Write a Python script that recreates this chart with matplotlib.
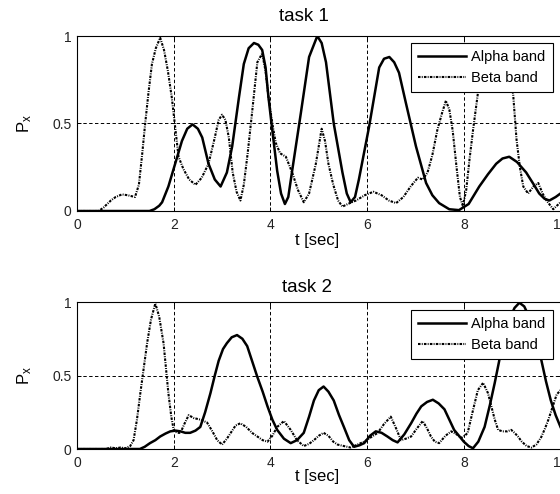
import matplotlib
matplotlib.use("Agg")
import matplotlib.pyplot as plt

plt.rcParams['font.family'] = ['Liberation Sans', 'DejaVu Sans']
plt.rcParams['mathtext.fontset'] = 'custom'
plt.rcParams['mathtext.rm'] = 'Liberation Sans'
plt.rcParams['mathtext.it'] = 'Liberation Sans'

# ---------------- data ----------------
titles = ["task 1", "task 2"]
series_names = ["Alpha band", "Beta band"]
xticks = [0, 2, 4, 6, 8, 10]
yticks = [0, 0.5, 1]
ytick_labels = ["0", "0.5", "1"]

t1_alpha = [0, 1.5, 1.6, 1.7, 1.76, 1.89, 2.03, 2.17, 2.28, 2.39, 2.5, 2.59, 2.72, 2.85, 2.97,
            3.1, 3.21, 3.35, 3.45, 3.55, 3.66, 3.75, 3.83, 3.9, 3.96, 4.04, 4.14, 4.22, 4.3,
            4.37, 4.45, 4.63, 4.8, 4.97, 5.06, 5.15, 5.31, 5.49, 5.58, 5.66, 5.75, 5.83, 6.04,
            6.25, 6.35, 6.46, 6.56, 6.66, 6.8, 7.01, 7.22, 7.35, 7.49, 7.7, 7.9, 8.1, 8.32,
            8.5, 8.67, 8.8, 8.94, 9.1, 9.29, 9.45, 9.56, 9.67, 9.77, 9.9, 10]
y1_alpha = [0, 0, 0.01, 0.03, 0.05, 0.14, 0.27, 0.40, 0.47, 0.495, 0.47, 0.42, 0.27, 0.18, 0.14,
            0.22, 0.37, 0.65, 0.84, 0.93, 0.96, 0.95, 0.92, 0.82, 0.65, 0.46, 0.23, 0.10, 0.04,
            0.08, 0.23, 0.56, 0.88, 1.0, 0.96, 0.85, 0.50, 0.22, 0.10, 0.05, 0.08, 0.18, 0.48,
            0.82, 0.87, 0.88, 0.85, 0.79, 0.62, 0.37, 0.16, 0.09, 0.045, 0.01, 0.005, 0.04, 0.14,
            0.21, 0.27, 0.30, 0.31, 0.28, 0.22, 0.15, 0.10, 0.07, 0.06, 0.08, 0.10]

t1_beta = [0, 0.45, 0.55, 0.7, 0.8, 0.93, 1.05, 1.2, 1.28, 1.35, 1.41, 1.48, 1.55, 1.63, 1.72,
           1.8, 1.88, 1.96, 2.03, 2.1, 2.2, 2.32, 2.45, 2.58, 2.72, 2.85, 2.93, 3.0, 3.07, 3.14,
           3.22, 3.3, 3.38, 3.45, 3.53, 3.62, 3.73, 3.83, 3.9, 3.96, 4.04, 4.11, 4.2, 4.32, 4.45,
           4.57, 4.69, 4.8, 4.94, 5.06, 5.13, 5.2, 5.3, 5.4, 5.49, 5.6, 5.77, 5.95, 6.13, 6.3,
           6.45, 6.6, 6.75, 6.9, 7.05, 7.15, 7.25, 7.35, 7.45, 7.55, 7.63, 7.7, 7.77, 7.85, 7.92,
           7.98, 8.05, 8.12, 8.19, 8.29, 8.4, 8.55, 8.7, 8.85, 9.02, 9.09, 9.16, 9.23, 9.33, 9.44,
           9.54, 9.63, 9.71, 9.85, 10]
y1_beta = [0, 0, 0.02, 0.06, 0.08, 0.095, 0.09, 0.08, 0.15, 0.33, 0.50, 0.68, 0.84, 0.93, 0.99,
           0.92, 0.80, 0.65, 0.48, 0.31, 0.24, 0.18, 0.15, 0.19, 0.27, 0.42, 0.52, 0.55, 0.52, 0.42,
           0.22, 0.11, 0.06, 0.15, 0.33, 0.56, 0.85, 0.90, 0.80, 0.65, 0.50, 0.39, 0.33, 0.31, 0.22,
           0.12, 0.05, 0.10, 0.27, 0.47, 0.40, 0.27, 0.15, 0.06, 0.025, 0.04, 0.06, 0.09, 0.11, 0.09,
           0.06, 0.045, 0.08, 0.14, 0.19, 0.18, 0.22, 0.32, 0.46, 0.56, 0.63, 0.58, 0.46, 0.25, 0.08,
           0.03, 0.12, 0.30, 0.46, 0.67, 0.82, 0.93, 0.95, 0.85, 0.67, 0.41, 0.25, 0.14, 0.10, 0.14,
           0.16, 0.10, 0.06, 0.01, 0.05]

t2_alpha = [0, 1.3, 1.4, 1.51, 1.62, 1.72, 1.83, 1.93, 2.04, 2.14, 2.24, 2.34, 2.45, 2.55, 2.65,
            2.76, 2.85, 2.93, 3.02, 3.1, 3.2, 3.31, 3.42, 3.52, 3.62, 3.73, 3.84, 3.94, 4.04, 4.14,
            4.28, 4.42, 4.55, 4.69, 4.8, 4.9, 5.0, 5.1, 5.2, 5.31, 5.42, 5.52, 5.63, 5.73, 5.84,
            5.94, 6.06, 6.18, 6.3, 6.42, 6.53, 6.63, 6.77, 6.91, 7.02, 7.12, 7.24, 7.36, 7.48, 7.6,
            7.7, 7.8, 7.9, 8.0, 8.1, 8.19, 8.3, 8.43, 8.54, 8.64, 8.72, 8.78, 8.85, 8.95, 9.05,
            9.15, 9.25, 9.35, 9.45, 9.53, 9.6, 9.7, 9.8, 9.9, 10]
y2_alpha = [0, 0, 0.015, 0.04, 0.06, 0.085, 0.105, 0.12, 0.125, 0.12, 0.11, 0.11, 0.125, 0.15, 0.25,
            0.38, 0.50, 0.60, 0.68, 0.72, 0.76, 0.775, 0.75, 0.70, 0.60, 0.49, 0.39, 0.29, 0.20, 0.13,
            0.07, 0.04, 0.06, 0.11, 0.22, 0.33, 0.40, 0.425, 0.39, 0.33, 0.23, 0.15, 0.06, 0.015, 0.025,
            0.04, 0.09, 0.12, 0.11, 0.085, 0.06, 0.045, 0.10, 0.175, 0.24, 0.29, 0.32, 0.335, 0.31, 0.27,
            0.20, 0.13, 0.09, 0.05, 0.02, 0.005, 0.05, 0.15, 0.30, 0.45, 0.58, 0.68, 0.78, 0.89, 0.96,
            0.995, 0.97, 0.90, 0.80, 0.70, 0.61, 0.46, 0.33, 0.23, 0.15]

t2_beta = [0, 0.6, 0.7, 0.8, 0.9, 1.0, 1.1, 1.17, 1.24, 1.31, 1.38, 1.45, 1.53, 1.62, 1.7, 1.79,
           1.84, 1.89, 1.95, 2.0, 2.07, 2.14, 2.22, 2.31, 2.42, 2.55, 2.69, 2.8, 2.9, 3.0, 3.1,
           3.2, 3.28, 3.38, 3.5, 3.62, 3.73, 3.84, 3.94, 4.04, 4.14, 4.28, 4.42, 4.55, 4.69, 4.8,
           4.9, 5.0, 5.1, 5.2, 5.3, 5.39, 5.52, 5.66, 5.8, 5.94, 6.08, 6.22, 6.35, 6.49, 6.6, 6.7,
           6.8, 6.91, 7.03, 7.15, 7.24, 7.32, 7.4, 7.49, 7.62, 7.74, 7.85, 7.95, 8.02, 8.08, 8.18,
           8.29, 8.4, 8.5, 8.57, 8.64, 8.71, 8.8, 8.9, 8.98, 9.05, 9.12, 9.2, 9.3, 9.4, 9.5, 9.6,
           9.68, 9.75, 9.85, 9.92, 10]
y2_beta = [0, 0, 0.01, 0.005, 0.01, 0.005, 0.02, 0.06, 0.20, 0.38, 0.55, 0.72, 0.88, 0.99, 0.90, 0.72,
           0.55, 0.38, 0.22, 0.13, 0.11, 0.11, 0.17, 0.23, 0.21, 0.20, 0.18, 0.12, 0.06, 0.03, 0.07,
           0.12, 0.16, 0.175, 0.15, 0.11, 0.085, 0.06, 0.05, 0.09, 0.15, 0.19, 0.13, 0.06, 0.02, 0.035,
           0.06, 0.09, 0.11, 0.09, 0.05, 0.03, 0.02, 0.01, 0.03, 0.05, 0.08, 0.11, 0.17, 0.22, 0.14, 0.06,
           0.07, 0.085, 0.14, 0.19, 0.14, 0.085, 0.05, 0.04, 0.09, 0.12, 0.10, 0.075, 0.09, 0.11, 0.25,
           0.40, 0.45, 0.38, 0.29, 0.20, 0.13, 0.12, 0.12, 0.13, 0.11, 0.085, 0.05, 0.02, 0.01, 0.03, 0.08,
           0.14, 0.20, 0.30, 0.37, 0.40]

panels = [
    (t1_alpha, y1_alpha, t1_beta, y1_beta),
    (t2_alpha, y2_alpha, t2_beta, y2_beta),
]

# ---------------- layout ----------------
W, H = 560, 494
fig = plt.figure(figsize=(W / 100, H / 100), dpi=100)

# axes boxes in pixels: (left, top, right, bottom)
boxes = [(77, 36, 560.5, 211), (77, 302, 560.5, 449)]
title_px = [(304, 16.5), (307, 287)]
xlabel_px = [(317, 241), (317, 476)]
legend_px = [(553, 43), (553, 310)]

beta_ls = (0, (1.2, 0.6, 0.45, 0.6))

for i, (box, data) in enumerate(zip(boxes, panels)):
    l, t, r, b = box
    ax = fig.add_axes([l / W, 1 - b / H, (r - l) / W, (b - t) / H])
    ta, ya, tb, yb = data
    ax.plot(ta, ya, color='black', lw=1.8, label=series_names[0], solid_joinstyle='round')
    ax.plot(tb, yb, color='black', lw=1.5, ls=beta_ls, label=series_names[1])
    ax.set_xlim(0, 10)
    ax.set_ylim(0, 1)
    ax.set_xticks(xticks)
    ax.set_yticks(yticks)
    ax.set_yticklabels(ytick_labels)
    ax.grid(True, color='black', lw=0.7, ls=(0, (3.5, 2.5)))
    ax.tick_params(direction='in', length=3, width=0.7, top=True, right=True,
                   labelsize=10, pad=5, colors='black')
    ax.tick_params(axis='y', pad=4)
    for lab in ax.get_xticklabels() + ax.get_yticklabels():
        lab.set_color('#222222')
    for s in ax.spines.values():
        s.set_linewidth(0.8)

    hgt = b - t
    wid = r - l
    tx, ty = title_px[i]
    ax.set_title(titles[i], x=(tx - l) / wid, y=1 + (t - ty) / hgt, va='center',
                 fontsize=13.5, pad=0)
    ax.set_xlabel('t [sec]', fontsize=12, va='center')
    xx, xy = xlabel_px[i]
    ax.xaxis.set_label_coords((xx - l) / wid, -(xy - b) / hgt)
    ax.set_ylabel(r'P$_{\mathrm{x}}$', fontsize=12, va='center')
    ax.yaxis.set_label_coords(-(l - 25) / wid, 0.5)

    lx, ly = legend_px[i]
    leg = ax.legend(loc='upper right', bbox_to_anchor=(lx / W, 1 - ly / H),
                    bbox_transform=fig.transFigure, borderaxespad=0,
                    fontsize=10.5, handlelength=3.3, handletextpad=0.35,
                    labelspacing=0.45, borderpad=0.5, fancybox=False,
                    edgecolor='black', framealpha=1)
    leg.get_frame().set_linewidth(0.8)

fig.savefig('out.png', dpi=100)
